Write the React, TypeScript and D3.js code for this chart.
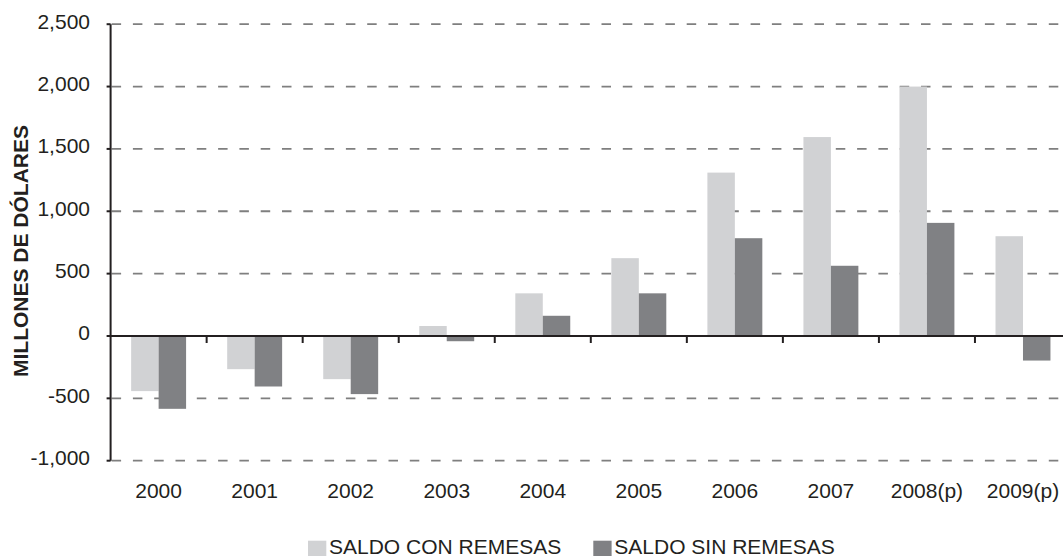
import React from "react";
import * as d3 from "d3";

const categories = ["2000", "2001", "2002", "2003", "2004", "2005", "2006", "2007", "2008(p)", "2009(p)"];
const conRemesas = [-442, -266, -346, 80, 342, 624, 1310, 1595, 2000, 800];
const sinRemesas = [-584, -405, -466, -42, 162, 342, 784, 563, 907, -197];
const seriesNames = ["SALDO CON REMESAS", "SALDO SIN REMESAS"];
const seriesColors = ["#d1d2d4", "#808184"];
const yTicks = [-1000, -500, 0, 500, 1000, 1500, 2000, 2500];

const W = 1063;
const H = 556;
const FONT = "'Liberation Sans', Arial, sans-serif";
const TEXT = "#231f20";

export default function App() {
  const x0 = 110.6;
  const x1 = 1071;
  const y = d3.scaleLinear().domain([-1000, 2500]).range([460.7, 24.2]);
  const xb = d3.scaleBand<string>().domain(categories).range([x0, x1]).paddingInner(0).paddingOuter(0);
  const step = xb.step();
  const inner = d3.scaleBand<string>().domain(seriesNames).range([step * 0.214, step * 0.786]).padding(0);
  const fmt = (v: number) => d3.format(",")(v).replace("\u2212", "-");
  const series = [conRemesas, sinRemesas];

  return (
    <svg width={W} height={H} style={{ position: "absolute", left: 0, top: 0, display: "block" }} fontFamily={FONT}>
      <rect x={0} y={0} width={W} height={H} fill="#ffffff" />
      {/* gridlines */}
      {yTicks.filter((t) => t !== 0).map((t) => (
        <line key={"g" + t} x1={x0 + 1} x2={W} y1={y(t)} y2={y(t)} stroke="#7f7f7f" strokeWidth={1.8} strokeDasharray="9.5,11.8" />
      ))}
      {/* bars */}
      {series.map((vals, si) =>
        vals.map((v, i) => {
          const bx = (xb(categories[i]) as number) + (inner(seriesNames[si]) as number);
          const top = y(Math.max(0, v));
          const bot = y(Math.min(0, v));
          return <rect key={si + "-" + i} x={bx} y={top} width={inner.bandwidth()} height={bot - top} fill={seriesColors[si]} />;
        })
      )}
      {/* y axis */}
      <line x1={x0} x2={x0} y1={y(2500)} y2={y(-1000)} stroke={TEXT} strokeWidth={2} />
      {yTicks.map((t) => (
        <g key={"yt" + t}>
          <line x1={x0 - 4} x2={x0} y1={y(t)} y2={y(t)} stroke={TEXT} strokeWidth={2} />
          <text x={90} y={y(t) + 4.5} textAnchor="end" fontSize={21} fill={TEXT}>
            {fmt(t)}
          </text>
        </g>
      ))}
      {/* zero line */}
      <line x1={x0} x2={W} y1={y(0)} y2={y(0)} stroke={TEXT} strokeWidth={2.2} />
      {categories.slice(1).map((c) => (
        <line key={"xt" + c} x1={xb(c) as number} x2={xb(c) as number} y1={y(0)} y2={y(0) + 7} stroke={TEXT} strokeWidth={2} />
      ))}
      {categories.map((c) => (
        <text key={"xl" + c} x={(xb(c) as number) + step / 2} y={497.5} textAnchor="middle" fontSize={21} fill={TEXT}>
          {c}
        </text>
      ))}
      {/* y label */}
      <text transform="translate(28,251) rotate(-90)" textAnchor="middle" fontSize={21} fontWeight="bold" fill={TEXT}>
        MILLONES DE DÓLARES
      </text>
      {/* legend */}
      {seriesNames.map((n, i) => {
        const lx = i === 0 ? 308 : 593.3;
        return (
          <g key={"lg" + n}>
            <rect x={lx} y={540.7} width={18.3} height={15.3} fill={seriesColors[i]} />
            <text x={lx + 21} y={553.5} fontSize={21} fill={TEXT}>
              {n}
            </text>
          </g>
        );
      })}
    </svg>
  );
}
